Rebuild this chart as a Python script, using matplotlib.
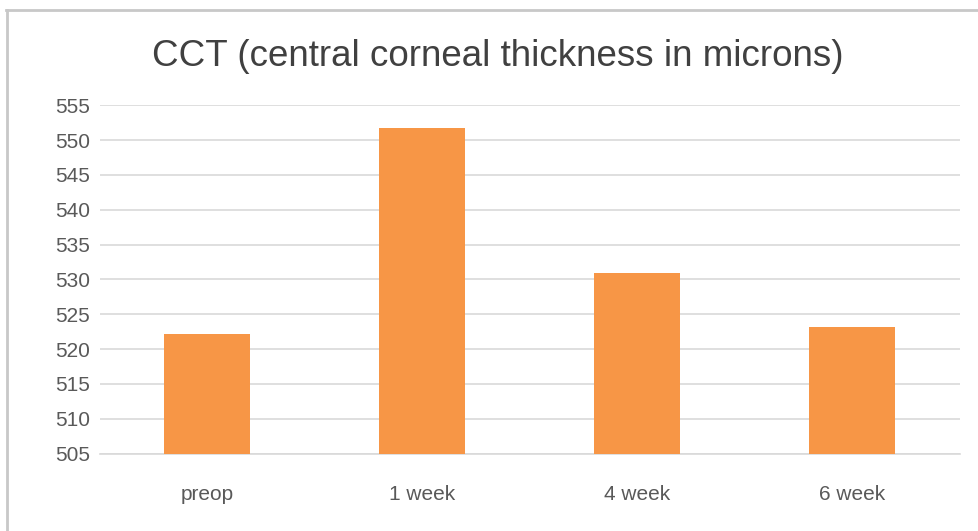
import matplotlib
matplotlib.use("Agg")
import matplotlib.pyplot as plt
from matplotlib.lines import Line2D

categories = ["preop", "1 week", "4 week", "6 week"]
cct_values = [522.1, 551.7, 530.9, 523.2]
y_ticks = [505, 510, 515, 520, 525, 530, 535, 540, 545, 550, 555]
title = "CCT (central corneal thickness in microns)"

plt.rcParams['font.family'] = ['Liberation Sans', 'DejaVu Sans']

W, H = 979, 531
fig = plt.figure(figsize=(W / 100, H / 100), dpi=100)
ax = fig.add_axes([100 / W, (H - 453.5) / H, 860 / W, (453.5 - 105.3) / H])

x = list(range(len(categories)))
ax.bar(x, cct_values, width=0.4, color="#F79646", zorder=3)
ax.set_xlim(-0.5, len(categories) - 0.5)
ax.set_ylim(505, 555)
ax.set_yticks(y_ticks)
ax.set_xticks(x)
ax.set_xticklabels(categories)
ax.yaxis.grid(True, color="#D9D9D9", linewidth=1.2, zorder=0)
for s in ["top", "right", "left"]:
    ax.spines[s].set_visible(False)
ax.spines["bottom"].set_color("#D9D9D9")
ax.spines["bottom"].set_linewidth(1.2)
ax.tick_params(axis="both", length=0, colors="#595959", labelsize=15)
ax.tick_params(axis="x", pad=23)
ax.tick_params(axis="y", pad=7)

fig.text(498 / W, 1 - 56 / H, title, ha="center", va="center",
         fontsize=26.5, color="#404040")

# chart border (top and left visible)
fig.add_artist(Line2D([7.5 / W, 7.5 / W], [0, 1 - 9.5 / H], transform=fig.transFigure,
                      color="#C8C8C8", linewidth=2))
fig.add_artist(Line2D([6.5 / W, 1], [1 - 9.5 / H, 1 - 9.5 / H], transform=fig.transFigure,
                      color="#C8C8C8", linewidth=2))

fig.savefig("out.png", dpi=100, facecolor="white")
